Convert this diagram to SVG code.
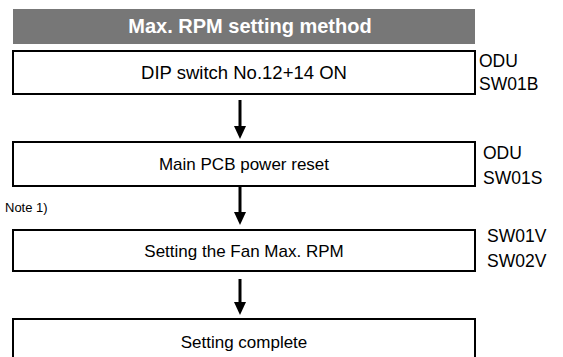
<svg xmlns="http://www.w3.org/2000/svg" width="563" height="357" viewBox="0 0 563 357">
<style>
.box{fill:#fff;stroke:#000;stroke-width:2}
.t{font-family:"Liberation Sans",Arial,sans-serif;font-size:17px;fill:#000;text-anchor:middle}
.s{font-family:"Liberation Sans",Arial,sans-serif;font-size:17.5px;fill:#000}
.n{font-family:"Liberation Sans",Arial,sans-serif;font-size:13px;fill:#000}
.c{stroke:#000;stroke-width:3;fill:none}
.h{fill:#000}
</style>
<rect width="563" height="357" fill="#fff"/>
<g id="title">
<rect x="13" y="9" width="462" height="35" fill="#777"/>
<text x="250" y="33" font-family="Liberation Sans,Arial,sans-serif" font-size="20" font-weight="bold" fill="#fff" text-anchor="middle">Max. RPM setting method</text>
</g>
<g id="step1">
<rect class="box" x="13" y="51" width="462" height="43"/>
<text class="t" x="244" y="79" style="font-size:18.5px">DIP switch No.12+14 ON</text>
<text class="s" x="479" y="67">ODU</text>
<text class="s" x="479" y="90">SW01B</text>
</g>
<g id="step2">
<rect class="box" x="13" y="142" width="462" height="44"/>
<text class="t" x="244" y="170">Main PCB power reset</text>
<text class="s" x="483" y="159">ODU</text>
<text class="s" x="483" y="184">SW01S</text>
</g>
<text class="n" x="5" y="212">Note 1)</text>
<g id="step3">
<rect class="box" x="13" y="230" width="462" height="41"/>
<text class="t" x="244" y="257">Setting the Fan Max. RPM</text>
<text class="s" x="487" y="242">SW01V</text>
<text class="s" x="487" y="267">SW02V</text>
</g>
<g id="step4">
<rect class="box" x="13" y="319" width="462" height="50"/>
<text class="t" x="244" y="348">Setting complete</text>
</g>
<g id="connectors">
<line class="c" x1="240" y1="100" x2="240" y2="127"/>
<path class="h" d="M234,126 L246,126 L240,139 Z"/>
<line class="c" x1="240" y1="187" x2="240" y2="213"/>
<path class="h" d="M234,212 L246,212 L240,225 Z"/>
<line class="c" x1="240" y1="279" x2="240" y2="303"/>
<path class="h" d="M234,302 L246,302 L240,315 Z"/>
</g>
</svg>
